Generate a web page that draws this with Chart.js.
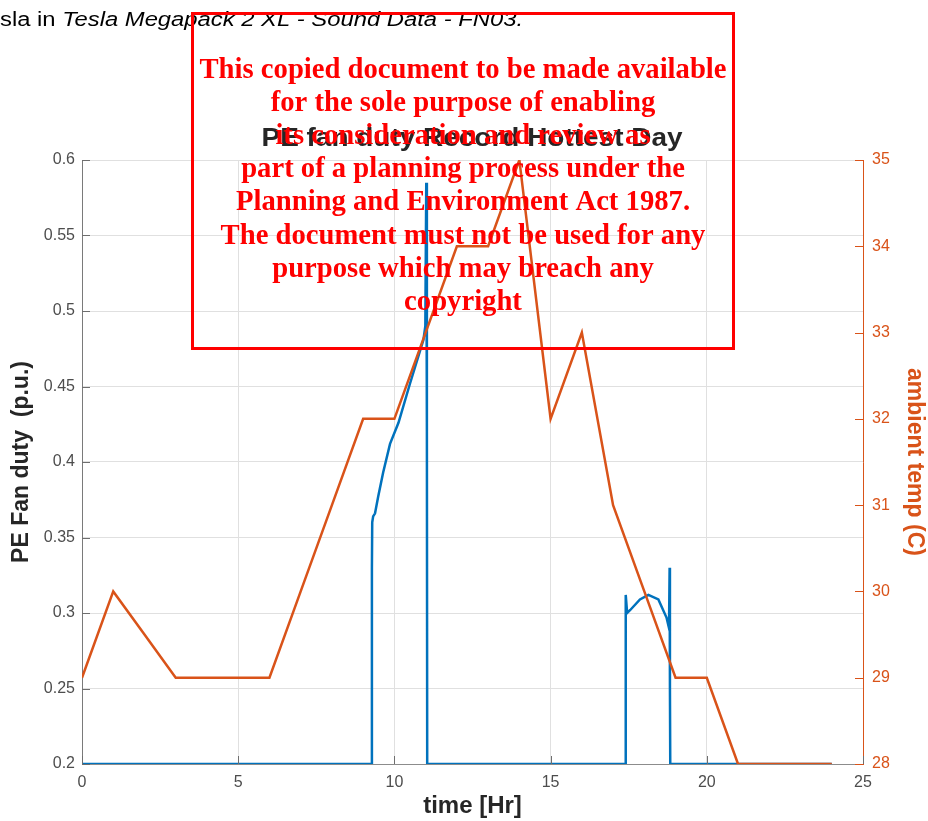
<!DOCTYPE html>
<html>
<head>
<meta charset="utf-8">
<script src="https://cdn.jsdelivr.net/npm/chart.js@4.4.1/dist/chart.umd.min.js"></script>
<style>
  html, body { margin: 0; padding: 0; background: #fff; }
  #wrap { position: relative; width: 928px; height: 821px; }
</style>
</head>
<body>
<div id="wrap"><canvas id="fanChart"></canvas></div>
<script>
// ambient temperature, hourly
const tempHours = [0, 1, 2, 3, 4, 5, 6, 7, 8, 9, 10, 11, 12, 13, 14, 15, 16, 17, 18, 19, 20, 21, 22, 23, 24];
const tempValues = [29, 30, 29.5, 29, 29, 29, 29, 30, 31, 32, 32, 33, 34, 34, 35, 32, 33, 31, 30, 29, 29, 28, 28, 28, 28];

// PE fan duty samples (hours, p.u.)
const fanTime = [0, 9.27, 9.28, 9.29, 9.32, 9.38, 9.48, 9.64, 9.86, 10.13, 10.5, 10.93, 10.99, 11.02, 11.04, 11.05,
  17.39, 17.40, 17.41, 17.45, 17.55, 17.86, 18.13, 18.45, 18.71, 18.79, 18.81, 18.82, 18.83, 24];
const fanDuty = [0.2, 0.2, 0.33, 0.36, 0.364, 0.366, 0.377, 0.393, 0.412, 0.426, 0.452, 0.481, 0.49, 0.585, 0.42, 0.2,
  0.2, 0.28, 0.312, 0.300, 0.302, 0.309, 0.312, 0.309, 0.297, 0.29, 0.33, 0.25, 0.2, 0.2];

const timeTicks = [0, 5, 10, 15, 20, 25];
const dutyTicks = [0.2, 0.25, 0.3, 0.35, 0.4, 0.45, 0.5, 0.55, 0.6];
const tempTicks = [28, 29, 30, 31, 32, 33, 34, 35];

const chartTitle = 'PE fan duty Record Hottest Day';
const captionPlain = 'sla in ';
const captionItalic = 'Tesla Megapack 2 XL - Sound Data - FN03.';
const noticeLines = [
  'This copied document to be made available',
  'for the sole purpose of enabling',
  'its consideration and review as',
  'part of a planning process under the',
  'Planning and Environment Act 1987.',
  'The document must not be used for any',
  'purpose which may breach any',
  'copyright'
];

const BLUE = '#0072BD';
const ORANGE = '#D95319';
const AXIS_GREY = '#4d4d4d';
const SANS = '"Liberation Sans", Arial, sans-serif';

const overlay = {
  id: 'overlay',
  afterDraw(chart) {
    const ctx = chart.ctx;
    const area = chart.chartArea;
    const { x, y, y2 } = chart.scales;

    // inward tick marks like the original plot
    ctx.save();
    ctx.lineWidth = 1;
    ctx.strokeStyle = '#6e6e6e';
    timeTicks.forEach(v => {
      const px = Math.round(x.getPixelForValue(v)) + 0.5;
      ctx.beginPath(); ctx.moveTo(px, area.bottom); ctx.lineTo(px, area.bottom - 8); ctx.stroke();
    });
    dutyTicks.forEach(v => {
      const py = Math.round(y.getPixelForValue(v)) + 0.5;
      ctx.beginPath(); ctx.moveTo(area.left, py); ctx.lineTo(area.left + 8, py); ctx.stroke();
    });
    ctx.strokeStyle = ORANGE;
    tempTicks.forEach(v => {
      const py = Math.round(y2.getPixelForValue(v)) + 0.5;
      ctx.beginPath(); ctx.moveTo(area.right, py); ctx.lineTo(area.right - 8, py); ctx.stroke();
    });
    ctx.restore();

    // chart title
    ctx.save();
    ctx.font = 'bold 25px ' + SANS;
    ctx.fillStyle = '#262626';
    let w = ctx.measureText(chartTitle).width;
    ctx.translate(472, 146);
    ctx.scale(421 / w, 1);
    ctx.textAlign = 'center';
    ctx.fillText(chartTitle, 0, 0);
    ctx.restore();

    // document caption at top
    ctx.save();
    ctx.fillStyle = '#000';
    ctx.font = '20px ' + SANS;
    const w1 = ctx.measureText(captionPlain).width;
    ctx.font = 'italic 20px ' + SANS;
    const w2 = ctx.measureText(captionItalic).width;
    ctx.translate(0, 26);
    ctx.scale(523 / (w1 + w2), 1);
    ctx.font = '20px ' + SANS;
    ctx.fillText(captionPlain, 0, 0);
    ctx.font = 'italic 20px ' + SANS;
    ctx.fillText(captionItalic, w1, 0);
    ctx.restore();

    // red planning notice
    ctx.save();
    ctx.strokeStyle = '#ff0000';
    ctx.lineWidth = 3;
    ctx.strokeRect(192.5, 13.5, 541, 335);
    ctx.fillStyle = '#ff0000';
    ctx.font = 'bold 30px "Liberation Serif", "Times New Roman", serif';
    ctx.textAlign = 'center';
    const sx = 527 / ctx.measureText(noticeLines[0]).width;
    noticeLines.forEach((line, i) => {
      ctx.save();
      ctx.translate(463, 78 + i * 33.1);
      ctx.scale(sx, 1);
      ctx.fillText(line, 0, 0);
      ctx.restore();
    });
    ctx.restore();
  }
};

new Chart(document.getElementById('fanChart'), {
  type: 'line',
  data: {
    datasets: [
      {
        label: 'ambient temp',
        data: tempHours.map((h, i) => ({ x: h, y: tempValues[i] })),
        yAxisID: 'y2',
        borderColor: ORANGE,
        borderWidth: 2.5,
        pointRadius: 0,
        tension: 0
      },
      {
        label: 'PE fan duty',
        data: fanTime.map((t, i) => ({ x: t, y: fanDuty[i] })),
        yAxisID: 'y',
        borderColor: BLUE,
        borderWidth: 2.5,
        pointRadius: 0,
        tension: 0
      }
    ]
  },
  options: {
    responsive: true,
    maintainAspectRatio: false,
    animation: false,
    layout: { padding: { top: 160, left: 0, right: 0, bottom: 0 } },
    plugins: { legend: { display: false }, tooltip: { enabled: false } },
    scales: {
      x: {
        type: 'linear',
        min: 0,
        max: 25,
        afterBuildTicks: s => { s.ticks = timeTicks.map(v => ({ value: v })); },
        afterFit: s => { s.height = 57; },
        ticks: { color: AXIS_GREY, font: { size: 16, family: SANS }, padding: 9, maxRotation: 0, callback: v => String(v) },
        grid: { color: '#e0e0e0', drawTicks: false },
        border: { color: '#8c8c8c' },
        title: { display: true, text: 'time [Hr]', color: '#262626', font: { size: 24, weight: 'bold', family: SANS }, padding: { top: 0, bottom: 0 } }
      },
      y: {
        position: 'left',
        min: 0.2,
        max: 0.6,
        afterBuildTicks: s => { s.ticks = dutyTicks.map(v => ({ value: v })); },
        afterFit: s => { s.width = 82; },
        ticks: { color: AXIS_GREY, font: { size: 16, family: SANS }, padding: 7, callback: v => String(v) },
        grid: { color: '#e0e0e0', drawTicks: false },
        border: { color: '#7a7a7a' },
        title: { display: true, text: 'PE Fan duty  (p.u.)', color: '#262626', font: { size: 23, weight: 'bold', family: SANS }, padding: { top: 8, bottom: 0 } }
      },
      y2: {
        position: 'right',
        min: 28,
        max: 35,
        afterBuildTicks: s => { s.ticks = tempTicks.map(v => ({ value: v })); },
        afterFit: s => { s.width = 65; },
        ticks: { color: ORANGE, font: { size: 16, family: SANS }, padding: 9, callback: v => String(v) },
        grid: { drawOnChartArea: false, drawTicks: false },
        border: { color: ORANGE },
        title: { display: true, text: 'ambient temp (C)', color: ORANGE, font: { size: 23, weight: 'bold', family: SANS }, padding: { top: 0, bottom: 0 } }
      }
    }
  },
  plugins: [overlay]
});
</script>
</body>
</html>
